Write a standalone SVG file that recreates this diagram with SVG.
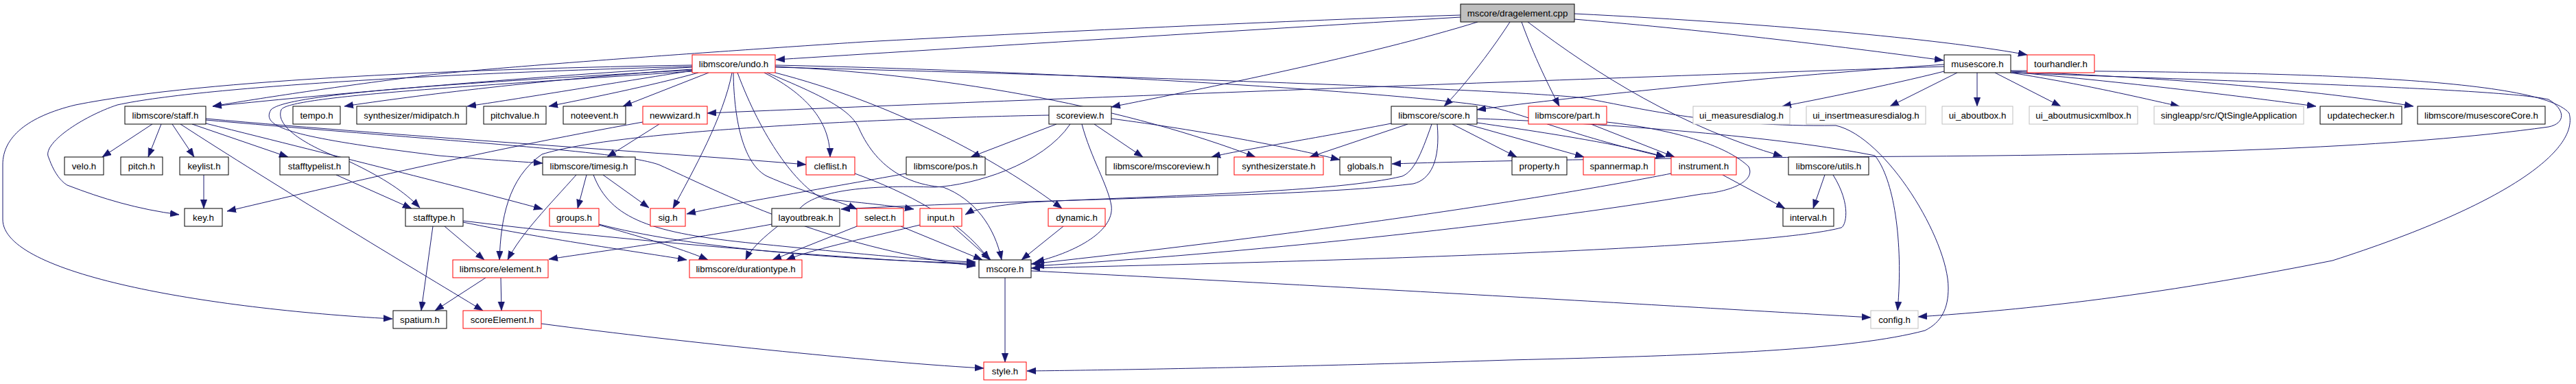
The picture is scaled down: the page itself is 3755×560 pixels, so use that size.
<svg xmlns="http://www.w3.org/2000/svg" width="3755" height="560" viewBox="0 0 3755 560">
<style>
rect{fill:#fff;stroke-width:1}
.b rect{stroke:#000}
.r rect{stroke:#ff0000}
.g rect{stroke:#bfbfbf}
.root rect{fill:#bfbfbf;stroke:#000}
text{font-family:"Liberation Sans",Arial,sans-serif;font-size:13.33px;text-anchor:middle;fill:#000}
#edges path{fill:none;stroke:#191970;stroke-width:1;marker-end:url(#a)}
</style>
<defs>
<marker id="a" markerUnits="userSpaceOnUse" markerWidth="14" markerHeight="11" refX="13" refY="5" orient="auto"><path d="M0,0.2 L13,5 L0,9.8 z" fill="#191970" stroke="#191970" stroke-width="0.5"/></marker>
</defs>
<rect x="0" y="0" width="3755" height="560" style="fill:#fff;stroke:none"/>
<g id="edges">
<path d="M2129,25 C1800,45 1400,70 1131,87"/>
<path d="M2295,28 C2500,45 2700,70 2833,88"/>
<path d="M2295,20 C2600,35 2850,60 2955,80"/>
<path d="M2154,32 C2000,80 1750,130 1620,156"/>
<path d="M2201,32 C2170,80 2130,130 2105,155"/>
<path d="M2218,32 C2235,80 2260,130 2273,155"/>
<path d="M2227,32 C2330,110 2450,185 2598,228"/>
<path d="M2129,22 C1900,29 1500,48 1260,61 C1000,78 700,100 620,110 C500,125 380,143 310,155"/>
<path d="M1009,98 C800,110 500,135 310,155"/>
<path d="M1009,95 C700,100 300,115 110,153 C40,170 4,200 4,240 L4,320 C4,400 300,450 572,465"/>
<path d="M1009,97 C700,105 300,125 171,153 C120,170 60,210 71,230 C80,255 90,265 98,270 C150,290 200,305 261,313"/>
<path d="M1009,101 C800,115 600,140 502,155"/>
<path d="M1009,103 C900,120 750,145 681,155"/>
<path d="M1018,106 C950,125 850,145 800,155"/>
<path d="M1033,106 L908,155"/>
<path d="M1009,102 C700,120 420,135 395,160 C380,185 420,200 640,227 C700,232 760,236 791,238"/>
<path d="M1009,104 C700,125 420,140 410,160 C400,185 450,215 510,236 C560,260 590,280 612,303"/>
<path d="M1067,106 C1055,170 1010,250 981,304"/>
<path d="M1069,106 C1070,180 1085,240 1118,257 C1170,280 1215,290 1249,305"/>
<path d="M1075,106 C1110,200 1160,270 1200,290 C1250,295 1300,300 1332,305"/>
<path d="M1114,106 C1180,140 1210,180 1210,229"/>
<path d="M1118,106 C1200,140 1240,160 1252,187 C1280,250 1330,270 1375,273 C1420,290 1450,330 1460,379"/>
<path d="M1130,106 C1300,150 1450,230 1548,304"/>
<path d="M1130,97 C1400,110 1650,160 1830,229"/>
<path d="M1130,95 C1600,105 2100,140 2178,157 C2230,170 2300,200 2427,229"/>
<path d="M1130,98 C1600,110 2200,130 2309,143 C2400,160 2500,185 2676,183 C2750,200 2840,350 2840,420 C2840,450 2830,470 2806,482 C2700,510 2500,518 2200,525 C1900,535 1600,540 1497,541"/>
<path d="M222,181 L149,229"/>
<path d="M235,181 L216,229"/>
<path d="M251,181 L283,229"/>
<path d="M280,181 L420,229"/>
<path d="M263,181 C400,270 600,390 704,453"/>
<path d="M300,180 C500,230 700,280 791,305"/>
<path d="M300,173 C600,200 1000,225 1175,240"/>
<path d="M300,175 C700,210 900,220 960,240 C1050,280 1200,360 1422,388"/>
<path d="M297,255 L297,304"/>
<path d="M490,255 L600,304"/>
<path d="M631,330 L614,453"/>
<path d="M648,330 L706,379"/>
<path d="M675,324 C800,350 950,370 1001,379"/>
<path d="M675,322 C900,350 1200,375 1422,386"/>
<path d="M873,328 C950,350 1000,365 1032,379"/>
<path d="M873,327 C1000,360 1200,378 1422,384"/>
<path d="M855,255 L842,304"/>
<path d="M840,255 C800,300 760,340 740,379"/>
<path d="M879,255 L946,303"/>
<path d="M865,255 C890,320 950,340 1100,355 C1250,370 1350,380 1422,382"/>
<path d="M1321,253 C1200,275 1050,300 1001,312"/>
<path d="M1246,253 C1320,280 1400,320 1442,379"/>
<path d="M1540,181 L1415,229"/>
<path d="M1595,181 L1666,229"/>
<path d="M1529,168 C1300,172 900,190 790,225 C740,260 730,320 728,379"/>
<path d="M1577,181 C1590,230 1615,270 1620,300 C1625,340 1560,370 1509,382"/>
<path d="M1560,181 C1520,240 1420,270 1362,273 C1280,270 1200,275 1170,300 C1150,320 1100,350 1087,379"/>
<path d="M1620,173 C1750,190 1880,215 1953,233"/>
<path d="M937,178 C700,220 450,280 331,308"/>
<path d="M961,181 L885,229"/>
<path d="M2834,97 C2300,115 1500,145 1031,165"/>
<path d="M2834,94 C2600,110 2300,140 2153,160"/>
<path d="M2834,104 C2750,125 2650,145 2598,155"/>
<path d="M2853,106 L2755,155"/>
<path d="M2882,106 L2882,155"/>
<path d="M2908,106 L3004,155"/>
<path d="M2931,106 C3050,125 3130,145 3177,155"/>
<path d="M2933,105 C3150,125 3300,145 3376,155"/>
<path d="M2931,104 C3200,115 3400,135 3518,155"/>
<path d="M2931,103 C3300,105 3700,110 3745,165 C3760,220 3650,300 3400,380 C3100,440 2900,455 2796,462"/>
<path d="M2931,106 C3300,120 3650,130 3715,145 C3740,160 3740,180 3715,185 C3500,215 3200,225 2800,228 C2500,230 2200,233 2029,239"/>
<path d="M2028,180 C1900,205 1800,220 1766,229"/>
<path d="M2052,181 L1909,229"/>
<path d="M2117,181 L2211,229"/>
<path d="M2138,181 L2309,229"/>
<path d="M2153,179 C2300,200 2380,215 2427,229"/>
<path d="M2087,181 C2070,230 2060,250 2044,257 C1950,280 1700,285 1500,295 C1450,300 1420,305 1407,313"/>
<path d="M2095,181 C2100,235 2085,262 2060,268 C1900,288 1500,290 1226,305"/>
<path d="M2154,173 C2350,180 2600,200 2733,227 C2760,260 2775,350 2766,453"/>
<path d="M2319,181 L2441,229"/>
<path d="M2342,178 C2450,190 2520,215 2549,243 C2560,265 2520,280 2480,283 C2200,330 1800,370 1509,388"/>
<path d="M2436,253 C2300,280 2000,330 1503,385"/>
<path d="M2672,255 C2700,300 2690,330 2684,332 C2600,355 2200,375 1503,391"/>
<path d="M2660,255 L2643,304"/>
<path d="M2511,255 L2602,304"/>
<path d="M1503,395 C2000,420 2500,450 2727,463"/>
<path d="M1465,405 L1465,528"/>
<path d="M1389,330 L1444,379"/>
<path d="M1341,328 C1250,350 1180,365 1146,379"/>
<path d="M1313,330 L1432,379"/>
<path d="M1249,330 L1126,379"/>
<path d="M1550,330 L1489,379"/>
<path d="M1125,327 C1000,350 850,370 800,378"/>
<path d="M708,405 L634,453"/>
<path d="M730,405 L731,453"/>
<path d="M789,472 C1000,500 1300,530 1434,537"/>
</g>
<g id="n_drag" class="root"><rect x="2129" y="6" width="166" height="26"/><text x="2212" y="23.5">mscore/dragelement.cpp</text></g>
<g id="n_undo" class="r"><rect x="1009" y="80" width="121" height="26"/><text x="1069.5" y="97.5">libmscore/undo.h</text></g>
<g id="n_musescore" class="b"><rect x="2834" y="80" width="97" height="26"/><text x="2882.5" y="97.5">musescore.h</text></g>
<g id="n_tourhandler" class="r"><rect x="2955" y="80" width="98" height="26"/><text x="3004" y="97.5">tourhandler.h</text></g>
<g id="n_staff" class="b"><rect x="182" y="155" width="118" height="26"/><text x="241" y="172.5">libmscore/staff.h</text></g>
<g id="n_tempo" class="b"><rect x="427" y="155" width="69" height="26"/><text x="461.5" y="172.5">tempo.h</text></g>
<g id="n_midipatch" class="b"><rect x="520" y="155" width="160" height="26"/><text x="600" y="172.5">synthesizer/midipatch.h</text></g>
<g id="n_pitchvalue" class="b"><rect x="705" y="155" width="91" height="26"/><text x="750.5" y="172.5">pitchvalue.h</text></g>
<g id="n_noteevent" class="b"><rect x="821" y="155" width="91" height="26"/><text x="866.5" y="172.5">noteevent.h</text></g>
<g id="n_newwizard" class="r"><rect x="937" y="155" width="94" height="26"/><text x="984" y="172.5">newwizard.h</text></g>
<g id="n_scoreview" class="b"><rect x="1529" y="155" width="91" height="26"/><text x="1574.5" y="172.5">scoreview.h</text></g>
<g id="n_score" class="b"><rect x="2028" y="155" width="125" height="26"/><text x="2090.5" y="172.5">libmscore/score.h</text></g>
<g id="n_part" class="r"><rect x="2228" y="155" width="114" height="26"/><text x="2285" y="172.5">libmscore/part.h</text></g>
<g id="n_uimeasures" class="g"><rect x="2468" y="155" width="141" height="26"/><text x="2538.5" y="172.5">ui_measuresdialog.h</text></g>
<g id="n_uiinsert" class="g"><rect x="2633" y="155" width="174" height="26"/><text x="2720" y="172.5">ui_insertmeasuresdialog.h</text></g>
<g id="n_uiabout" class="g"><rect x="2831" y="155" width="103" height="26"/><text x="2882.5" y="172.5">ui_aboutbox.h</text></g>
<g id="n_uiaboutxml" class="g"><rect x="2958" y="155" width="158" height="26"/><text x="3037" y="172.5">ui_aboutmusicxmlbox.h</text></g>
<g id="n_singleapp" class="g"><rect x="3140" y="155" width="218" height="26"/><text x="3249" y="172.5">singleapp/src/QtSingleApplication</text></g>
<g id="n_update" class="b"><rect x="3382" y="155" width="119" height="26"/><text x="3441.5" y="172.5">updatechecker.h</text></g>
<g id="n_core" class="b"><rect x="3524" y="155" width="186" height="26"/><text x="3617" y="172.5">libmscore/musescoreCore.h</text></g>
<g id="n_velo" class="b"><rect x="94" y="229" width="57" height="26"/><text x="122.5" y="246.5">velo.h</text></g>
<g id="n_pitch" class="b"><rect x="176" y="229" width="61" height="26"/><text x="206.5" y="246.5">pitch.h</text></g>
<g id="n_keylist" class="b"><rect x="262" y="229" width="71" height="26"/><text x="297.5" y="246.5">keylist.h</text></g>
<g id="n_stafftypelist" class="b"><rect x="408" y="229" width="101" height="26"/><text x="458.5" y="246.5">stafftypelist.h</text></g>
<g id="n_timesig" class="b"><rect x="791" y="229" width="135" height="26"/><text x="858.5" y="246.5">libmscore/timesig.h</text></g>
<g id="n_cleflist" class="r"><rect x="1175" y="229" width="71" height="26"/><text x="1210.5" y="246.5">cleflist.h</text></g>
<g id="n_pos" class="b"><rect x="1321" y="229" width="115" height="26"/><text x="1378.5" y="246.5">libmscore/pos.h</text></g>
<g id="n_mscoreview" class="b"><rect x="1612" y="229" width="163" height="26"/><text x="1693.5" y="246.5">libmscore/mscoreview.h</text></g>
<g id="n_synthstate" class="r"><rect x="1799" y="229" width="130" height="26"/><text x="1864" y="246.5">synthesizerstate.h</text></g>
<g id="n_globals" class="b"><rect x="1953" y="229" width="75" height="26"/><text x="1990.5" y="246.5">globals.h</text></g>
<g id="n_property" class="b"><rect x="2204" y="229" width="80" height="26"/><text x="2244" y="246.5">property.h</text></g>
<g id="n_spannermap" class="r"><rect x="2308" y="229" width="104" height="26"/><text x="2360" y="246.5">spannermap.h</text></g>
<g id="n_instrument" class="r"><rect x="2436" y="229" width="95" height="26"/><text x="2483.5" y="246.5">instrument.h</text></g>
<g id="n_utils" class="b"><rect x="2607" y="229" width="117" height="26"/><text x="2665.5" y="246.5">libmscore/utils.h</text></g>
<g id="n_key" class="b"><rect x="269" y="304" width="55" height="26"/><text x="296.5" y="321.5">key.h</text></g>
<g id="n_stafftype" class="b"><rect x="591" y="304" width="84" height="26"/><text x="633" y="321.5">stafftype.h</text></g>
<g id="n_groups" class="r"><rect x="801" y="304" width="72" height="26"/><text x="837" y="321.5">groups.h</text></g>
<g id="n_sig" class="r"><rect x="948" y="304" width="51" height="26"/><text x="973.5" y="321.5">sig.h</text></g>
<g id="n_layoutbreak" class="b"><rect x="1125" y="304" width="99" height="26"/><text x="1174.5" y="321.5">layoutbreak.h</text></g>
<g id="n_select" class="r"><rect x="1249" y="304" width="68" height="26"/><text x="1283" y="321.5">select.h</text></g>
<g id="n_input" class="r"><rect x="1341" y="304" width="61" height="26"/><text x="1371.5" y="321.5">input.h</text></g>
<g id="n_dynamic" class="r"><rect x="1528" y="304" width="83" height="26"/><text x="1569.5" y="321.5">dynamic.h</text></g>
<g id="n_interval" class="b"><rect x="2599" y="304" width="74" height="26"/><text x="2636" y="321.5">interval.h</text></g>
<g id="n_element" class="r"><rect x="660" y="379" width="139" height="26"/><text x="729.5" y="396.5">libmscore/element.h</text></g>
<g id="n_durationtype" class="r"><rect x="1005" y="379" width="164" height="26"/><text x="1087" y="396.5">libmscore/durationtype.h</text></g>
<g id="n_mscore" class="b"><rect x="1427" y="379" width="76" height="26"/><text x="1465" y="396.5">mscore.h</text></g>
<g id="n_spatium" class="b"><rect x="573" y="453" width="78" height="26"/><text x="612" y="470.5">spatium.h</text></g>
<g id="n_scoreElement" class="r"><rect x="675" y="453" width="114" height="26"/><text x="732" y="470.5">scoreElement.h</text></g>
<g id="n_config" class="g"><rect x="2727" y="453" width="69" height="26"/><text x="2761.5" y="470.5">config.h</text></g>
<g id="n_style" class="r"><rect x="1434" y="528" width="62" height="26"/><text x="1465" y="545.5">style.h</text></g>
</svg>
